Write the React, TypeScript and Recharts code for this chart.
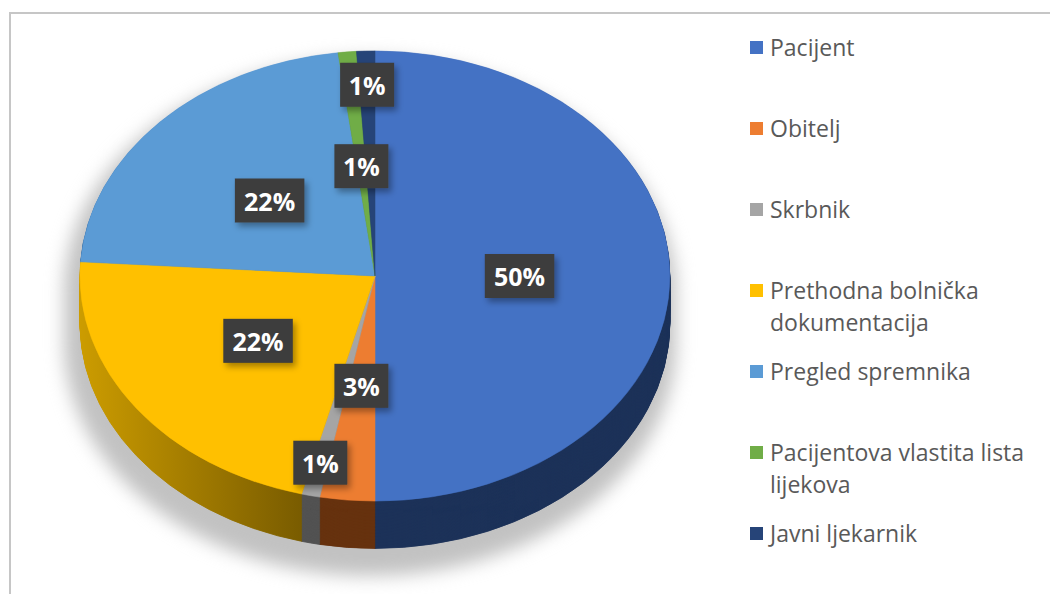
import { PieChart, Pie, Cell, Legend } from "recharts";

// categories and shares (percent of answers)
const categories = [
  "Pacijent",
  "Obitelj",
  "Skrbnik",
  "Prethodna bolnička dokumentacija",
  "Pregled spremnika",
  "Pacijentova vlastita lista lijekova",
  "Javni ljekarnik",
];
const shares = [50, 3, 1, 22, 22, 1, 1];
const topColors = ["#4472C4", "#ED7D31", "#A5A5A5", "#FFC000", "#5B9BD5", "#70AD47", "#264478"];
const sideColors = ["#1D3259", "#66320F", "#525252", "url(#sideYellow)", "#2E5F8F", "#3B6326", "#14264A"];

const data = categories.map((name, i) => ({ name, value: shares[i] }));

const W = 1050;
const H = 594;
const K = 0.763; // vertical squash for the tilted look
const CX = 375;
const CY = 276;
const R = 295;
const DEPTH = 47;
const SQ_H = 790;
const cyPre = CY / K;
const depthPre = Math.round(DEPTH / K);
const layers = Array.from({ length: depthPre }, (_, i) => depthPre - i);
const shadowLayers = Array.from({ length: 12 }, (_, i) => i * 6);
const RADIAN = Math.PI / 180;
const noMargin = { top: 0, right: 0, bottom: 0, left: 0 };

const renderLabel = (props: any) => {
  const { cx, cy, midAngle, index } = props;
  const v = shares[index];
  const prevSmall = index > 0 && shares[index - 1] < 5;
  const f = v < 5 && prevSmall ? 0.85 : 0.49;
  const x = cx + f * R * Math.cos(-midAngle * RADIAN);
  const y = cy + f * R * K * Math.sin(-midAngle * RADIAN);
  const text = `${v}%`;
  const w = 23 + 15.5 * text.length;
  const h = 44;
  return (
    <g key={`lbl-${index}`}>
      <rect x={x - w / 2} y={y - h / 2} width={w} height={h} fill="#3c3c3c" filter="url(#lblShadow)" />
      <text
        x={x}
        y={y}
        fill="#fff"
        textAnchor="middle"
        dominantBaseline="central"
        fontSize={25}
        fontWeight={700}
        fontFamily="'Open Sans'"
      >
        {text}
      </text>
    </g>
  );
};

const renderLegend = (props: any) => {
  const items = [...(props.payload ?? [])].sort(
    (a: any, b: any) => categories.indexOf(a.value) - categories.indexOf(b.value)
  );
  return (
    <ul
      style={{
        listStyle: "none",
        margin: 0,
        padding: 0,
        fontFamily: "'Open Sans'",
        fontSize: 23,
        color: "#595959",
      }}
    >
      {items.map((p: any) => {
        const i = categories.indexOf(p.value);
        return (
          <li key={p.value} style={{ height: 81, display: "flex", alignItems: "flex-start" }}>
            <span
              style={{
                width: 13,
                height: 13,
                background: topColors[i],
                marginTop: 10,
                marginRight: 7,
                flex: "none",
              }}
            />
            <span style={{ lineHeight: "32px", width: 272 }}>{p.value}</span>
          </li>
        );
      })}
    </ul>
  );
};

const App = () => {
  return (
    <div
      style={{
        position: "relative",
        width: W,
        height: H,
        overflow: "hidden",
        background: "#fff",
      }}
    >
      <style>{"body{margin:0}"}</style>
      <div
        style={{
          position: "absolute",
          left: 9,
          top: 12,
          width: 1100,
          height: 700,
          border: "2px solid #C6C6C6",
        }}
      />
      {/* soft shadow */}
      <div style={{ position: "absolute", left: 0, top: 0, width: W, height: H, filter: "blur(9px)" }}>
        <div style={{ position: "absolute", left: 0, top: 0, transform: `scaleY(${K})`, transformOrigin: "0 0" }}>
          <PieChart width={W} height={SQ_H} margin={noMargin}>
            {shadowLayers.map((d) => (
              <Pie
                key={`sh-${d}`}
                data={data}
                dataKey="value"
                cx={CX - 5}
                cy={cyPre + 16 / K + d}
                outerRadius={R + 11}
                startAngle={90}
                endAngle={-270}
                stroke="none"
                fill="#c2c2c2"
                legendType="none"
                isAnimationActive={false}
              />
            ))}
          </PieChart>
        </div>
      </div>
      {/* pie body: side layers + top face */}
      <div style={{ position: "absolute", left: 0, top: 0, transform: `scaleY(${K})`, transformOrigin: "0 0" }}>
        <PieChart width={W} height={SQ_H} margin={noMargin}>
          <defs>
            <linearGradient id="sideYellow" gradientUnits="userSpaceOnUse" x1={80} y1={0} x2={318} y2={0}>
              <stop offset="0%" stopColor="#CC9C00" />
              <stop offset="100%" stopColor="#735700" />
            </linearGradient>
          </defs>
          {layers.map((d) => (
            <Pie
              key={`side-${d}`}
              data={data}
              dataKey="value"
              cx={CX}
              cy={cyPre + d}
              outerRadius={R}
              startAngle={90}
              endAngle={-270}
              legendType="none"
              isAnimationActive={false}
            >
              {data.map((e, i) => (
                <Cell key={e.name} fill={sideColors[i]} stroke={sideColors[i]} strokeWidth={1} />
              ))}
            </Pie>
          ))}
          <Pie
            data={data}
            dataKey="value"
            cx={CX}
            cy={cyPre}
            outerRadius={R}
            startAngle={90}
            endAngle={-270}
            legendType="none"
            isAnimationActive={false}
          >
            {data.map((e, i) => (
              <Cell key={e.name} fill={topColors[i]} stroke={topColors[i]} strokeWidth={0.6} />
            ))}
          </Pie>
        </PieChart>
      </div>
      {/* labels and legend, unscaled */}
      <div style={{ position: "absolute", left: 0, top: 0 }}>
        <PieChart width={W} height={H} margin={noMargin}>
          <defs>
            <filter id="lblShadow" x="-30%" y="-30%" width="170%" height="180%">
              <feDropShadow dx="3" dy="4" stdDeviation="3" floodColor="#000" floodOpacity="0.35" />
            </filter>
          </defs>
          <Pie
            data={data}
            dataKey="value"
            nameKey="name"
            cx={CX}
            cy={CY}
            outerRadius={R}
            startAngle={90}
            endAngle={-270}
            stroke="none"
            fillOpacity={0}
            label={renderLabel}
            labelLine={false}
            isAnimationActive={false}
          >
            {data.map((e, i) => (
              <Cell key={e.name} fill={topColors[i]} />
            ))}
          </Pie>
          <Legend
            layout="vertical"
            align="right"
            verticalAlign="top"
            itemSorter={null as any}
            content={renderLegend}
            wrapperStyle={{ left: 750, top: 31, width: 292 }}
          />
        </PieChart>
      </div>
    </div>
  );
};

export default App;
